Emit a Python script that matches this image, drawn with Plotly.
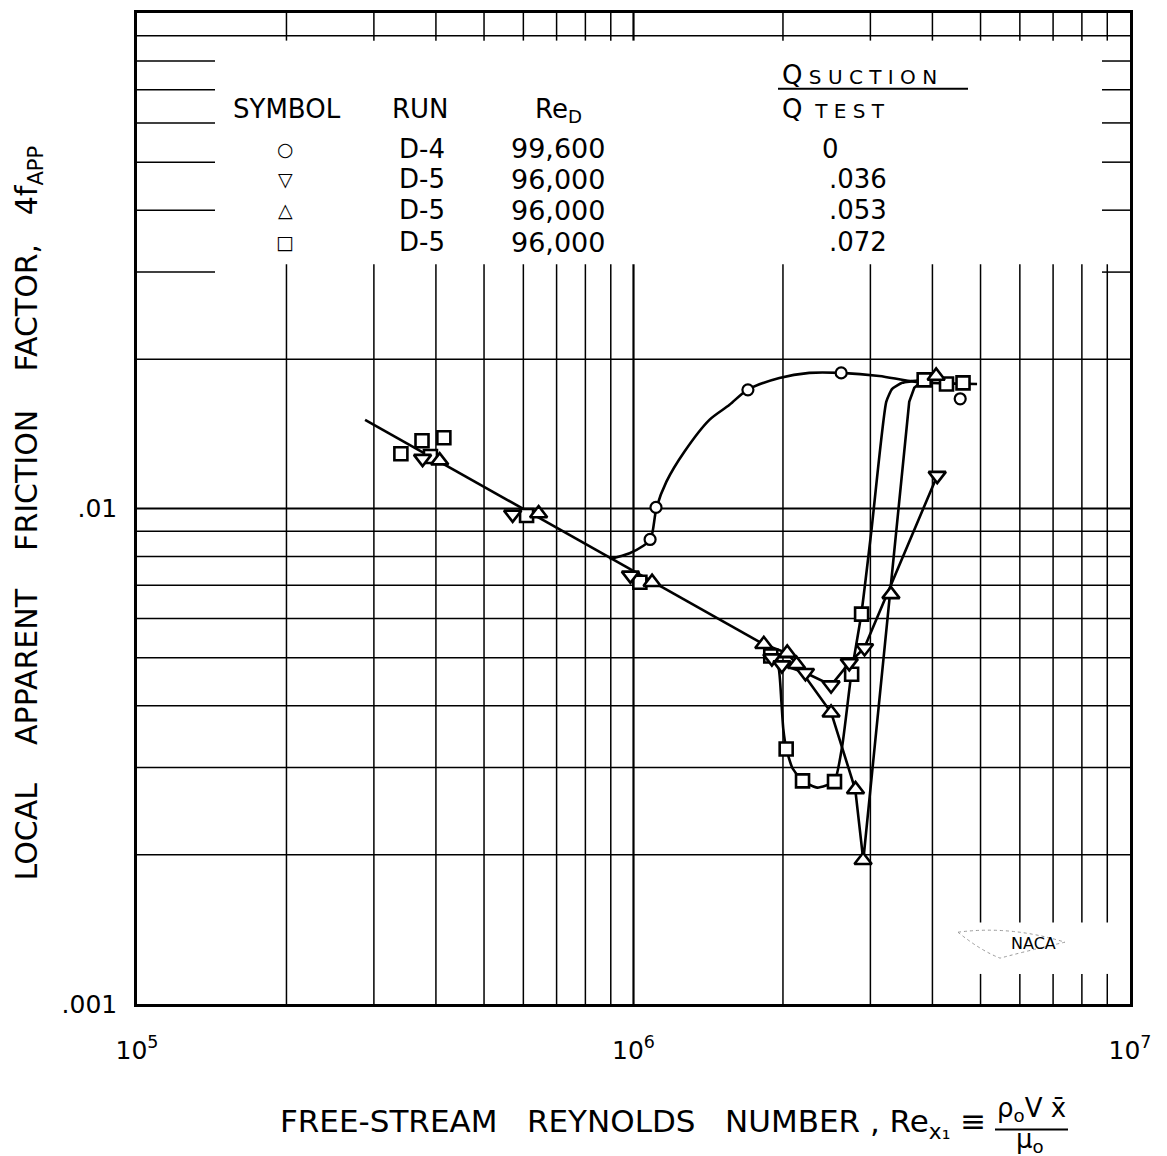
import math
import plotly.graph_objects as go

# ---------------- data ----------------
# Run D-4, Q_suction/Q_test = 0   (circles)
circ_x = [1.08e6, 1.11e6, 1.70e6, 2.62e6, 4.55e6]
circ_y = [0.00866, 0.01005, 0.01736, 0.01878, 0.01665]

# Run D-5, Q_suction/Q_test = .036   (inverted triangles)
tdn_x = [3.76e5, 5.71e5, 9.86e5, 1.90e6, 1.99e6, 2.22e6, 2.50e6, 2.72e6, 2.92e6, 4.09e6]
tdn_y = [0.01261, 0.00973, 0.00733, 0.00499, 0.00483, 0.00466, 0.00440, 0.00488, 0.00523, 0.01165]

# Run D-5, Q_suction/Q_test = .053   (triangles)
tup_x = [4.07e5, 6.44e5, 1.09e6, 1.83e6, 2.04e6, 2.13e6, 2.50e6, 2.80e6, 2.90e6, 3.30e6, 4.07e6]
tup_y = [0.01249, 0.00977, 0.00710, 0.00532, 0.00511, 0.00485, 0.00387, 0.00271, 0.00195, 0.00671, 0.01851]

# Run D-5, Q_suction/Q_test = .072   (squares)
sq_x = [3.40e5, 3.75e5, 3.90e5, 4.15e5, 6.09e5, 1.03e6, 1.89e6, 2.03e6, 2.19e6, 2.54e6,
        2.75e6, 2.88e6, 3.85e6, 4.27e6, 4.61e6]
sq_y = [0.0129, 0.0137, 0.01273, 0.01389, 0.00968, 0.00710, 0.00504, 0.00327, 0.00282, 0.00281,
        0.00463, 0.00612, 0.01818, 0.01784, 0.01793]

# faired curves
lam_x = [2.88e5, 1.83e6]
lam_y = [0.0151, 0.00532]

circ_curve_x = [8.95e5, 9.82e5, 1.043e6, 1.082e6, 1.113e6, 1.165e6, 1.266e6, 1.422e6, 1.561e6,
                1.696e6, 1.967e6, 2.26e6, 2.621e6, 3.126e6, 3.71e6, 4.92e6]
circ_curve_y = [0.0079, 0.00812, 0.00839, 0.00866, 0.01005, 0.01133, 0.01302, 0.0151, 0.01619,
                0.01736, 0.01834, 0.01878, 0.01878, 0.01851, 0.01801, 0.01784]

sq_curve_x = [1.887e6, 1.958e6, 1.985e6, 2.003e6, 2.031e6, 2.088e6, 2.188e6, 2.345e6, 2.537e6,
              2.633e6, 2.746e6, 2.876e6, 3.013e6, 3.229e6, 3.319e6, 3.477e6, 3.85e6]
sq_curve_y = [0.00504, 0.00479, 0.00409, 0.00359, 0.003274, 0.002998, 0.002823, 0.002733, 0.00281,
              0.00332, 0.004634, 0.006117, 0.00899, 0.01642, 0.01743, 0.01793, 0.01818]

dn_curve_x = [1.826e6, 1.895e6, 1.994e6, 2.219e6, 2.502e6, 2.72e6, 2.916e6, 4.09e6]
dn_curve_y = [0.00532, 0.00499, 0.00483, 0.00466, 0.0044, 0.00488, 0.00523, 0.01165]

up_curve_x = [1.826e6, 2.041e6, 2.128e6, 2.502e6, 2.797e6, 2.903e6, 3.592e6, 3.677e6, 3.797e6]
up_curve_y = [0.00532, 0.00511, 0.00485, 0.00387, 0.002708, 0.00195, 0.01642, 0.01752, 0.01801]

# legend table
leg_symbols = ["○", "▽", "△", "□"]
leg_runs = ["D-4", "D-5", "D-5", "D-5"]
leg_red = ["99,600", "96,000", "96,000", "96,000"]
leg_q = ["0", ".036", ".053", ".072"]

x_ticks = [1e5, 1e6, 1e7]
x_ticktext = ["10<sup>5</sup>", "10<sup>6</sup>", "10<sup>7</sup>"]
y_ticks = [0.001, 0.01, 0.1]
y_ticktext = [".001", ".01", ".1"]

# ---------------- layout geometry ----------------
W, H = 1167, 1156
L, R, T, B = 137, 37, 10, 152
PW, PH = W - L - R, H - T - B
FONT = "DejaVu Sans"


def px(xp):
    return (xp - L) / PW


def py(yp):
    return (H - B - yp) / PH


def fx(v):
    return (math.log10(v) - 5) / 2


def fy(v):
    return (math.log10(v) + 3) / 2


fig = go.Figure()

line_style = dict(color="black", width=2.6)
fig.add_trace(go.Scatter(x=lam_x, y=lam_y, mode="lines", line=line_style, hoverinfo="skip"))
fig.add_trace(go.Scatter(x=circ_curve_x, y=circ_curve_y, mode="lines",
                         line=dict(color="black", width=2.6, shape="spline", smoothing=0.8),
                         hoverinfo="skip"))
fig.add_trace(go.Scatter(x=sq_curve_x, y=sq_curve_y, mode="lines",
                         line=dict(color="black", width=2.6, shape="spline", smoothing=0.5),
                         hoverinfo="skip"))
fig.add_trace(go.Scatter(x=dn_curve_x, y=dn_curve_y, mode="lines", line=line_style, hoverinfo="skip"))
fig.add_trace(go.Scatter(x=up_curve_x, y=up_curve_y, mode="lines", line=line_style, hoverinfo="skip"))

mk_line = dict(color="black", width=2.6)
fig.add_trace(go.Scatter(x=sq_x, y=sq_y, mode="markers",
                         marker=dict(symbol="square", size=13, color="white", line=mk_line)))
fig.add_trace(go.Scatter(x=tup_x, y=tup_y, mode="markers",
                         marker=dict(symbol="triangle-up", size=15, color="white", line=mk_line)))
fig.add_trace(go.Scatter(x=tdn_x, y=tdn_y, mode="markers",
                         marker=dict(symbol="triangle-down", size=15, color="white", line=mk_line)))
fig.add_trace(go.Scatter(x=circ_x, y=circ_y, mode="markers",
                         marker=dict(symbol="circle", size=11, color="white", line=dict(color="black", width=2.2))))

# ---------------- grid (drawn as shapes so the legend area can stay blank) ----------------
shapes = []
GW, GWM = 1.5, 2.2
gap_lo = fy(0.0311)
top_lo = fy(0.09) - 0.005
naca_lo, naca_hi = fy(0.00115), fy(0.00146)
vlines = [k * 10 ** n for n in (5, 6) for k in range(1, 10)][1:]
for v in vlines:
    x0 = fx(v)
    w = GWM if abs(v - 1e6) < 1 else GW
    segs = [(0, gap_lo), (top_lo, 1)]
    if v > 4.5e6:
        segs = [(0, naca_lo), (naca_hi, gap_lo), (top_lo, 1)]
    for a, b in segs:
        shapes.append(dict(type="line", xref="paper", yref="paper", x0=x0, x1=x0, y0=a, y1=b,
                           line=dict(color="black", width=w), layer="below"))

hlines = [k * 10 ** n for n in (-3, -2) for k in range(1, 10)][1:]
stub_l = px(215)
stub_r = px(1102)
for v in hlines:
    y0 = fy(v)
    w = GWM if abs(v - 0.01) < 1e-9 else GW
    if 0.025 < v < 0.085:
        segs = [(0, stub_l), (stub_r, 1)]
    else:
        segs = [(0, 1)]
    for a, b in segs:
        shapes.append(dict(type="line", xref="paper", yref="paper", x0=a, x1=b, y0=y0, y1=y0,
                           line=dict(color="black", width=w), layer="below"))

# fraction bars
shapes.append(dict(type="line", xref="paper", yref="paper", x0=px(778), x1=px(968), y0=py(86), y1=py(86),
                   line=dict(color="black", width=2.2)))
shapes.append(dict(type="line", xref="paper", yref="paper", x0=px(995), x1=px(1068), y0=py(1130), y1=py(1130),
                   line=dict(color="black", width=2)))
# faint NACA emblem outline
shapes.append(dict(type="path", xref="paper", yref="paper",
                   path="M {} {} Q {} {} {} {} Q {} {} {} {} Q {} {} {} {}".format(
                       px(958), py(932), px(1010), py(925), px(1065), py(942),
                       px(1030), py(950), px(1000), py(958),
                       px(980), py(950), px(958), py(932)),
                   line=dict(color="#999999", width=1, dash="dot")))

# ---------------- annotations ----------------
ann = []


def txt(text, xp, yp, size=26, xanchor="center", yanchor="middle", **kw):
    ann.append(dict(text=text, x=px(xp), y=py(yp), xref="paper", yref="paper", showarrow=False,
                    xanchor=xanchor, yanchor=yanchor, font=dict(family=FONT, size=size, color="black"), **kw))


txt("SYMBOL", 287, 106)
txt("RUN", 420, 106)
txt("Re<sub>D</sub>", 558, 108)
txt("Q<span style='font-size:20px'> S U C T I O N</span>", 780, 72, size=26, xanchor="left")
txt("Q<span style='font-size:20px'>  T E S T</span>", 780, 106, size=26, xanchor="left")
row_y = [146, 177, 208, 240]
for i in range(4):
    txt("<b>" + leg_symbols[i] + "</b>", 285, row_y[i], size=19)
    txt(leg_runs[i], 422, row_y[i])
    txt(leg_red[i], 558, row_y[i], size=27)
    if i == 0:
        txt(leg_q[i], 820, row_y[i], xanchor="left")
    else:
        txt(leg_q[i], 858, row_y[i])

txt("NACA", 1033, 943, size=16)

txt("FREE-STREAM   REYNOLDS   NUMBER , Re<sub>x₁</sub> ≡", 988, 1124, size=31, xanchor="right")
txt("ρ<sub>o</sub>V x̄", 1031, 1110, size=26)
txt("μ<sub>o</sub>", 1030, 1141, size=26)
txt("LOCAL    APPARENT    FRICTION    FACTOR,   4f<sub>APP</sub>", 28, 512, size=30, textangle=-90)

fig.update_layout(
    width=W, height=H,
    margin=dict(l=L, r=R, t=T, b=B, pad=0),
    paper_bgcolor="white", plot_bgcolor="white",
    showlegend=False,
    shapes=shapes, annotations=ann,
    font=dict(family=FONT, color="black"),
)
fig.update_xaxes(type="log", range=[5, 7], showgrid=False, zeroline=False, showline=True, mirror=True,
                 linecolor="black", linewidth=2.5, ticks="", tickvals=x_ticks, ticktext=x_ticktext,
                 tickfont=dict(family=FONT, size=25, color="black"), ticklabelstandoff=22)
fig.update_yaxes(type="log", range=[-3, -1], showgrid=False, zeroline=False, showline=True, mirror=True,
                 linecolor="black", linewidth=2.5, ticks="", tickvals=y_ticks, ticktext=y_ticktext,
                 tickfont=dict(family=FONT, size=25, color="black"), ticklabelstandoff=12)

fig.write_html("out.html", config={"displayModeBar": False},
               post_script="document.body.style.margin='0px';document.body.style.overflow='hidden';")
